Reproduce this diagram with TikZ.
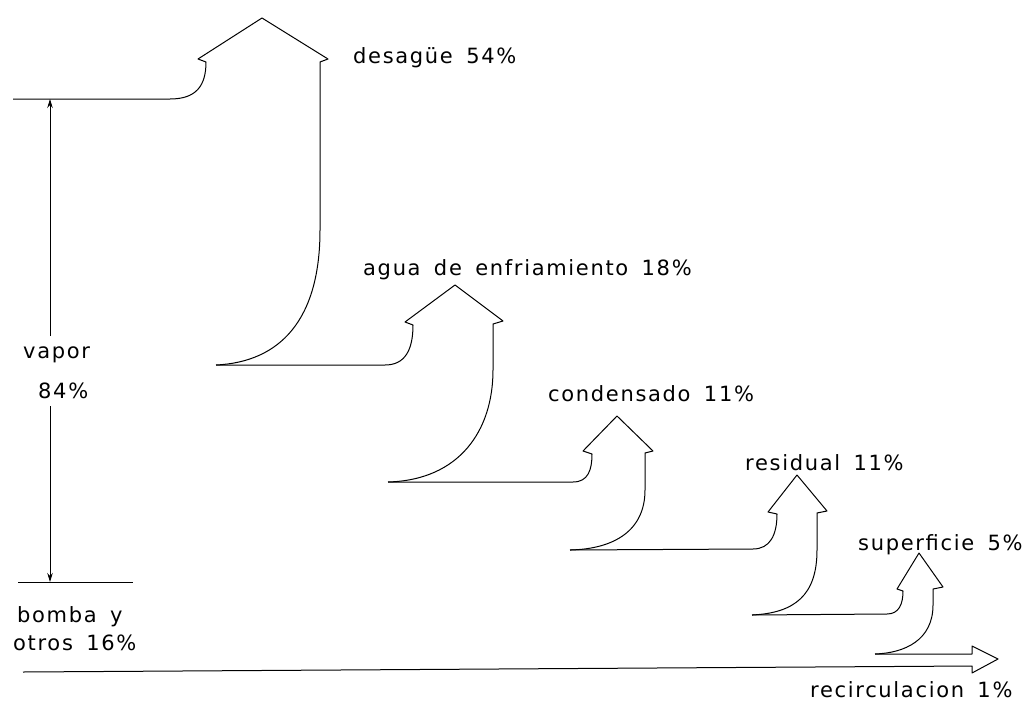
\documentclass[tikz,border=0pt]{standalone}
\usepackage{fontspec}
\newfontfamily\labfont[LetterSpace=8,WordSpace=1.6]{DejaVu Sans}
\usetikzlibrary{arrows.meta}
\begin{document}
\begin{tikzpicture}[x=1pt,y=-1pt,
  flow/.style={line width=1pt, line join=round},
  lab/.style={anchor=base west, inner sep=0pt, font=\labfont\fontsize{21}{25}\selectfont},
  dim/.style={line width=0.9pt, -{Stealth[length=9pt,width=5.5pt]}}]
\useasboundingbox (0,0) rectangle (1033,704);

% cusp points between successive flows
\coordinate (v0) at (13,99);
\coordinate (c1) at (216,365);
\coordinate (c2) at (388,482);
\coordinate (c3) at (570,550);
\coordinate (c4) at (752,615);
\coordinate (c5) at (875,654);
\coordinate (r0) at (23,672);

% desague
\draw[flow] (v0) -- (170,99) .. controls (196,99) and (206,86) .. (206,62)
  -- (198,59) -- (262,18) -- (328,59) -- (320,62) -- (320,230)
  .. controls (320,320) and (280,362) .. (c1);
% agua de enfriamiento
\draw[flow] (c1) -- (385,365) .. controls (405,365) and (413,350) .. (413,325)
  -- (405,322) -- (455,285) -- (503,321) -- (493,324) -- (493,370)
  .. controls (493,430) and (460,480) .. (c2);
% condensado
\draw[flow] (c2) -- (573,482) .. controls (588,482) and (592,470) .. (592,454)
  -- (583,451) -- (617,416) -- (653,451) -- (645,453) -- (645,490)
  .. controls (645,530) and (615,549) .. (c3);
% residual
\draw[flow] (c3) -- (753,549) .. controls (770,549) and (777,535) .. (777,514)
  -- (768,512) -- (797,475) -- (827,511) -- (817,513) -- (817,550)
  .. controls (817,595) and (795,613) .. (c4);
% superficie
\draw[flow] (c4) -- (887,614) .. controls (899,614) and (903,604) .. (903,591)
  -- (897,589) -- (919,553) -- (943,587) -- (933,589) -- (933,605)
  .. controls (933,640) and (905,653) .. (c5);
% recirculacion
\draw[flow] (c5) -- (972,654) -- (972,646) -- (998,659) -- (972,673)
  -- (972,666) -- (r0);

% vapor dimension
\coordinate (vt) at (50,99);
\coordinate (vb) at (50,582);
\coordinate (ga) at (50,336);
\coordinate (gb) at (50,406);
\draw[dim] (ga) -- (vt);
\draw[dim] (gb) -- (vb);
\coordinate (bl) at (18,582);
\coordinate (br) at (133,582);
\draw[flow] (bl) -- (br);

% labels
\node[lab] (tdes) at (353,63) {desagüe 54\%};
\node[lab] (tagu) at (363,275) {agua de enfriamiento 18\%};
\node[lab] (tcon) at (548,401) {condensado 11\%};
\node[lab] (tres) at (745,470) {residual 11\%};
\node[lab] (tsup) at (858,550) {superficie 5\%};
\node[lab] (trec) at (810,697) {recirculacion 1\%};
\node[lab] (tvap) at (23,358) {vapor};
\node[lab] (tvpc) at (38,398) {84\%};
\node[lab] (tbom) at (17,622) {bomba y};
\node[lab] (totr) at (13,650) {otros 16\%};
\end{tikzpicture}
\end{document}
